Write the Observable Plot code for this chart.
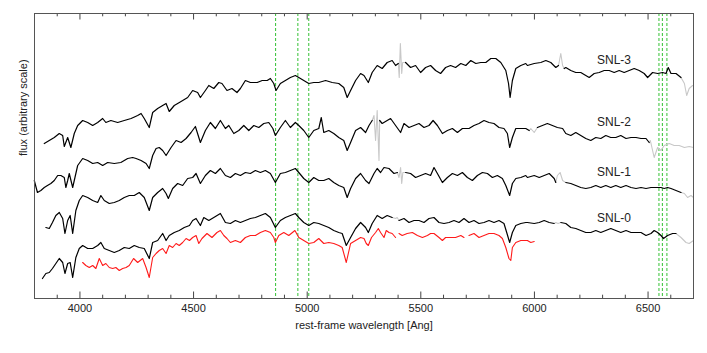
<!DOCTYPE html>
<html><head><meta charset="utf-8">
<script src="https://cdn.jsdelivr.net/npm/d3@7"></script>
<script src="https://cdn.jsdelivr.net/npm/@observablehq/plot@0.6"></script>
<style>body{margin:0;background:#fff} #chart{width:707px;height:353px}</style>
</head><body><div id="chart"></div>
<script>
// Wavelength [Ang], flux (arbitrary). null = break in the line.
const snl3 = [[3843,155],[3865,158],[3887,161],[3909,165],[3924,163],[3931,152],[3946,161],[3960,151],[3975,165],[3990,173],[4012,178],[4034,176],[4056,173],[4078,176],[4100,180],[4114,176],[4136,178],[4166,176],[4195,178],[4225,180],[4254,183],[4269,185],[4283,180],[4305,171],[4320,186],[4342,190],[4364,193],[4379,195],[4393,187],[4415,193],[4445,197],[4474,201],[4496,208],[4518,206],
[4530,201],[4552,208],[4567,213],[4589,210],[4611,216],[4625,215],[4647,208],[4669,210],[4691,206],[4706,210],[4728,218],[4750,216],[4780,216],[4802,218],[4824,218],[4838,220],[4853,215],[4863,208],[4882,215],[4904,218],[4926,221],[4948,223],[4963,221],[4985,218],[5007,215],[5029,216],[5051,216],[5081,218],[5110,216],[5139,215],[5161,211],[5176,201],[5191,208],[5213,218],[5235,225],
[5250,223],[5269,216],[5286,226],[5308,233],[5330,230],[5352,236],[5374,238],[5389,233],[5401,235],null,[5433,236],[5455,231],[5477,233],[5499,226],[5521,231],[5543,233],[5565,228],[5587,225],[5609,231],[5631,233],[5653,231],[5676,235],[5698,233],[5720,238],[5742,235],[5764,236],[5786,236],[5808,240],[5830,240],[5852,236],[5874,228],[5886,215],[5893,201],[5903,218],[5918,230],[5940,233],[5962,235],
[5969,233],[5999,235],[6028,236],[6050,238],[6072,236],[6094,231],[6106,233],null,[6131,230],[6138,231],[6160,228],[6182,226],[6204,226],[6226,223],[6241,221],[6263,225],[6285,226],[6307,228],[6329,228],[6351,226],[6373,228],[6395,226],[6417,228],[6439,230],[6461,228],[6483,225],[6498,221],[6520,226],[6542,225],[6564,226],[6579,225],[6589,231],[6601,225],[6623,225],[6645,221]];
const snl3Masked = [[5401,235],[5405,221],[5410,255],[5416,225],[5420,236],[5433,236],null,[6106,233],[6116,245],[6124,233],[6131,230],null,[6645,221],[6660,215],[6670,203],[6681,210],[6696,213]];

const snl2 = [[3799,118],[3813,106],[3828,108],[3843,111],[3857,113],[3872,115],[3887,118],[3902,123],[3916,123],[3931,121],[3938,111],[3946,118],[3953,125],[3968,111],[3978,121],[3990,133],[4012,140],[4034,138],[4056,135],[4078,136],[4100,133],[4122,136],[4151,135],[4180,136],[4210,140],[4232,141],[4247,140],[4269,138],[4291,135],[4305,130],[4320,143],[4335,150],[4349,151],[4364,148],[4379,143],[4401,151],[4423,158],[4445,156],[4467,160],[4489,166],[4508,172],[4530,156],
[4552,168],[4574,176],[4596,170],[4618,178],[4640,170],[4655,173],[4677,165],[4699,168],[4721,173],[4743,168],[4765,173],[4787,171],[4809,175],[4831,176],[4849,170],[4860,163],[4882,171],[4904,178],[4926,171],[4948,176],[4963,173],[4985,168],[5007,161],[5029,168],[5051,170],[5062,181],[5073,166],[5095,168],[5117,165],[5139,161],[5161,158],[5176,148],[5191,156],[5213,168],[5235,171],
[5257,166],[5272,173],[5286,178],null,[5319,178],[5330,175],[5352,178],[5367,180],[5389,173],[5411,166],[5426,175],[5448,171],[5470,173],[5492,175],[5514,171],[5536,173],[5554,178],[5573,173],[5595,165],[5617,168],[5639,170],[5661,166],[5683,170],[5712,170],[5734,173],[5756,175],[5778,178],[5800,176],[5822,175],[5844,171],[5866,170],[5881,165],[5891,151],[5903,161],[5918,170],[5940,170],[5962,170],[5977,168],null,
[6013,171],[6035,173],[6057,175],[6079,173],[6101,171],[6124,170],[6138,165],[6160,163],[6182,166],[6204,163],[6226,160],[6248,158],[6270,161],[6292,160],[6314,163],[6336,161],[6358,161],[6380,163],[6403,160],[6425,161],[6447,161],[6469,160],[6491,160],[6505,156]];
const snl2Masked = [[5286,178],[5294,183],[5301,158],[5308,188],[5316,138],[5319,178],null,[5977,168],[5984,170],[5999,166],[6013,171],null,[6505,156],[6510,158],[6527,141],[6542,151],[6557,148],[6571,153],[6593,155],[6615,153],[6637,153],[6660,151],[6681,152],[6700,151]];

const snl1 = [[3850,71],[3865,70],[3879,76],[3894,83],[3909,86],[3924,80],[3934,65],[3946,78],[3957,83],[3968,65],[3982,88],[3997,98],[4012,103],[4034,101],[4056,98],[4078,96],[4092,103],[4107,98],[4129,95],[4151,96],[4173,98],[4195,101],[4217,103],[4239,103],[4261,106],[4283,101],[4305,88],[4320,101],[4342,106],[4364,110],[4379,105],[4389,100],[4408,110],[4430,115],[4452,113],[4474,120],[4496,121],[4511,125],
[4530,115],[4552,123],[4574,128],[4596,125],[4618,130],[4640,123],[4662,121],[4684,125],[4706,123],[4728,126],[4750,125],[4772,128],[4794,126],[4816,128],[4838,125],[4860,116],[4882,125],[4904,126],[4926,128],[4948,130],[4963,126],[4985,120],[5007,116],[5029,121],[5051,118],[5073,118],[5095,120],[5117,116],[5139,113],[5161,111],[5176,101],[5191,110],[5213,120],[5235,125],
[5257,118],[5272,115],[5294,125],[5308,130],[5323,126],[5338,131],[5360,130],[5382,125],[5397,126],null,[5433,126],[5455,125],[5477,121],[5499,123],[5521,125],[5543,123],[5558,131],[5573,125],[5595,116],[5617,121],[5639,125],[5661,123],[5683,126],[5705,121],[5727,118],[5749,123],[5771,126],[5793,125],[5815,121],[5837,123],[5859,120],[5874,113],[5891,103],[5903,115],[5918,120],[5940,121],[5962,123],
[5969,121],[5999,123],[6021,121],[6043,123],[6065,125],[6087,120],[6094,116],null,[6138,116],[6160,115],[6182,113],[6204,111],[6226,110],[6248,111],[6270,113],[6292,111],[6314,113],[6336,111],[6358,113],[6380,111],[6403,113],[6425,111],[6447,110],[6469,111],[6491,110],[6513,111],[6535,111],[6557,111],[6571,110],[6586,111],[6601,110],[6623,108],[6645,106]];
const snl1Masked = [[5397,126],[5404,121],[5411,131],[5416,115],[5421,126],[5433,126],null,[6094,116],[6101,123],[6113,126],[6124,118],[6138,116],null,[6645,106],[6660,105],[6674,101],[6689,103],[6700,101]];

const snl0 = [[3835,20],[3850,25],[3865,26],[3879,30],[3894,35],[3909,40],[3924,36],[3934,25],[3946,35],[3957,36],[3968,21],[3982,41],[3997,50],[4012,53],[4034,50],[4056,50],[4078,53],[4092,56],[4107,50],[4129,48],[4151,46],[4173,48],[4195,51],[4217,50],[4239,53],[4261,51],[4283,50],[4305,40],[4320,56],[4342,58],[4364,65],[4379,58],[4393,63],[4415,66],[4437,68],[4459,71],[4482,73],[4496,78],[4511,80],
[4530,73],[4545,81],[4567,78],[4589,81],[4618,85],[4640,76],[4662,75],[4684,78],[4706,76],[4728,78],[4750,80],[4772,81],[4794,83],[4816,85],[4838,81],[4860,71],[4882,78],[4904,81],[4926,83],[4948,85],[4963,81],[4985,76],[5007,73],[5029,76],[5051,75],[5073,73],[5095,71],[5117,68],[5139,66],[5154,65],[5172,53],[5191,61],[5213,70],[5235,76],
[5257,71],[5269,66],[5286,75],[5308,83],[5330,80],[5352,83],[5374,81],null,[5404,78],[5426,80],[5448,76],[5470,78],[5492,78],[5514,76],[5536,80],[5558,81],[5580,76],[5602,75],[5624,76],[5646,78],[5668,76],[5690,80],[5712,76],[5734,78],[5756,75],[5778,76],[5800,78],[5822,76],[5844,78],[5866,75],[5878,66],[5891,56],[5903,66],[5918,73],[5940,75],[5962,76],
[5969,76],[5999,75],[6021,76],[6043,78],[6065,76],[6087,75],null,[6116,76],[6138,75],[6160,71],[6182,70],[6204,68],[6226,66],[6248,66],[6270,68],[6292,66],[6314,68],[6336,70],[6358,68],[6380,66],[6403,68],[6425,66],[6447,66],[6469,66],[6491,63],[6513,65],[6527,68],[6542,66],[6557,63],[6568,60],[6586,63],[6608,65],[6623,65]];
const snl0Masked = [[5374,81],[5389,80],[5396,81],[5404,78],null,[6087,75],[6094,76],[6104,75],[6116,76],null,[6623,65],[6645,61],[6667,56],[6681,55],[6700,58]];

const model = [[4012,36],[4026,33],[4041,31],[4056,33],[4070,30],[4085,40],[4100,33],[4114,35],[4129,31],[4144,30],[4158,31],[4173,28],[4188,30],[4203,31],[4217,33],[4236,40],[4254,36],[4276,40],[4291,31],[4305,21],[4320,41],[4335,45],[4349,48],[4364,50],[4379,45],[4393,53],[4408,51],[4423,55],[4437,53],[4452,56],[4467,60],[4482,58],[4496,61],[4511,63],
[4523,55],[4537,60],[4559,65],[4581,61],[4603,66],[4618,68],[4633,63],[4647,60],[4662,56],[4684,58],[4706,56],[4728,61],[4750,63],[4772,63],[4794,66],[4816,68],[4838,66],[4853,61],[4860,56],[4875,63],[4897,66],[4919,63],[4946,68],[4963,61],[4985,58],[5007,55],[5029,56],[5051,60],[5073,55],[5095,56],[5117,55],[5139,53],[5154,51],[5172,36],[5191,55],[5213,58],[5235,61],
[5250,60],[5260,55],[5269,53],[5283,61],[5301,66],[5313,70],[5323,66],[5338,61],[5348,68],[5360,66],[5374,65],[5389,61],null,[5404,65],[5418,63],[5440,65],[5463,66],[5485,63],[5507,61],[5529,63],[5543,65],[5558,65],[5580,61],[5595,58],[5609,61],[5631,61],[5653,61],[5676,63],[5690,61],null,[5712,63],[5734,65],[5756,61],[5778,63],[5800,65],[5822,65],[5844,63],[5859,60],[5874,51],[5888,40],[5896,38],[5903,51],[5918,56],[5940,58],[5962,58],[5969,58],[5984,56],[5999,57]];

const seriesNames = ["SNL-3","SNL-2","SNL-1","SNL-0"];
const labelWl = [6350,6350,6350,6350];
const labelFlux = [238,176,126,80];

const emissionLines = [4861,4959,5007,6548,6563,6583];

const majorTicks = [4000,4500,5000,5500,6000,6500];
const minorTicks = [3800,3900,4100,4200,4300,4400,4600,4700,4800,4900,5100,5200,5300,5400,5600,5700,5800,5900,6100,6200,6300,6400,6600,6700];

function rows(arr, series) {
  return arr.map(p => p === null ? {series, wl: NaN, flux: NaN} : {series, wl: p[0], flux: p[1]});
}
const observed = [snl3, snl2, snl1, snl0];
const masked = [snl3Masked, snl2Masked, snl1Masked, snl0Masked];
const obsRows = observed.flatMap((a, i) => rows(a, seriesNames[i]));
const maskRows = masked.flatMap((a, i) => rows(a, seriesNames[i]));
const modelRows = rows(model, "model");
const labels = seriesNames.map((s, i) => ({text: s, wl: labelWl[i], flux: labelFlux[i]}));

const tickLen = 6.5, minorLen = 3.3, yTop = 285;

const chart = Plot.plot({
  width: 707, height: 353,
  marginLeft: 34, marginRight: 14, marginTop: 13, marginBottom: 55,
  style: {fontFamily: "'Liberation Sans', Arial, sans-serif", fontSize: "11px", color: "#222", background: "#fff", overflow: "visible"},
  x: {domain: [3800, 6700]},
  y: {domain: [0, yTop], axis: null},
  marks: [
    Plot.ruleX(emissionLines, {stroke: "#33c133", strokeWidth: 1, strokeDasharray: "3,2"}),
    Plot.line(maskRows, {x: "wl", y: "flux", z: "series", stroke: "#c8c8c8", strokeWidth: 1.1}),
    Plot.line(obsRows, {x: "wl", y: "flux", z: "series", stroke: "#000", strokeWidth: 1.2}),
    Plot.line(modelRows, {x: "wl", y: "flux", stroke: "#ff1a1a", strokeWidth: 1.1}),
    Plot.text(labels, {x: "wl", y: "flux", text: "text", fontSize: 12, fill: "#222"}),
    Plot.ruleX(majorTicks, {y1: 0, y2: tickLen, stroke: "#444"}),
    Plot.ruleX(minorTicks, {y1: 0, y2: minorLen, stroke: "#444"}),
    Plot.ruleX(majorTicks, {y1: yTop, y2: yTop - tickLen, stroke: "#444"}),
    Plot.ruleX(minorTicks, {y1: yTop, y2: yTop - minorLen, stroke: "#444"}),
    Plot.axisX({ticks: majorTicks, tickSize: 0, tickPadding: 6, tickFormat: d => String(d), label: null, fontSize: 11}),
    Plot.text(["rest-frame wavelength [Ang]"], {frameAnchor: "bottom", dy: 30, fontSize: 11, fill: "#222"}),
    Plot.text(["flux (arbitrary scale)"], {frameAnchor: "left", rotate: -90, dx: -11, fontSize: 11, fill: "#222"}),
    Plot.frame({stroke: "#555"})
  ]
});
document.getElementById("chart").appendChild(chart);
</script>
</body></html>
